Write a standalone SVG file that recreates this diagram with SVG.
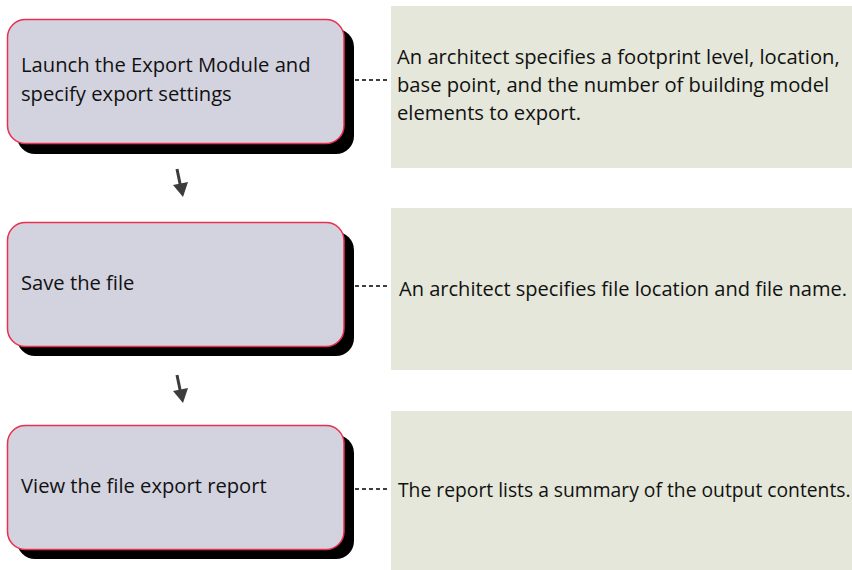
<svg xmlns="http://www.w3.org/2000/svg" width="852" height="570" viewBox="0 0 852 570">
<style>
.shadow{fill:#000}
.box{fill:#D3D3DF;stroke:#E8304F;stroke-width:1.5}
.panel{fill:#E4E7D9}
.t{font-family:"Open Sans","Noto Sans","Liberation Sans",sans-serif;font-size:20.2px;fill:#111}
.dash{stroke:#000;stroke-width:1.4;stroke-dasharray:4,3;fill:none}
.arrow{fill:#3c3c3c}
</style>
<rect width="852" height="570" fill="#fff"/>
<g id="connectors">
<line class="dash" x1="355" y1="80" x2="389" y2="80"/>
<line class="dash" x1="355" y1="286" x2="389" y2="286"/>
<line class="dash" x1="355" y1="489" x2="389" y2="489"/>
<g id="arrow1"><line x1="177" y1="169" x2="180.5" y2="186" stroke="#3c3c3c" stroke-width="3"/><polygon class="arrow" points="173,185 188,182 183,197"/></g>
<g id="arrow2"><line x1="177" y1="375" x2="180.5" y2="392" stroke="#3c3c3c" stroke-width="3"/><polygon class="arrow" points="173,391 188,388 183,403"/></g>
</g>
<g id="step1">
<rect class="shadow" x="17" y="29" width="337" height="125" rx="18"/>
<rect class="box" x="7.5" y="19.5" width="336.5" height="124" rx="18"/>
<text class="t" x="21" y="72">Launch the Export Module and</text>
<text class="t" x="21" y="101">specify export settings</text>
</g>
<g id="note1">
<rect class="panel" x="391" y="6" width="461" height="162"/>
<text class="t" x="397" y="64">An architect specifies a footprint level, location,</text>
<text class="t" x="397" y="92">base point, and the number of building model</text>
<text class="t" x="397" y="120">elements to export.</text>
</g>
<g id="step2">
<rect class="shadow" x="17" y="232" width="337" height="124" rx="18"/>
<rect class="box" x="7.5" y="222.5" width="336.5" height="124" rx="18"/>
<text class="t" x="21" y="290">Save the file</text>
</g>
<g id="note2">
<rect class="panel" x="391" y="208" width="461" height="162"/>
<text class="t" x="399" y="296" textLength="448" lengthAdjust="spacingAndGlyphs">An architect specifies file location and file name.</text>
</g>
<g id="step3">
<rect class="shadow" x="17" y="435" width="337" height="124" rx="18"/>
<rect class="box" x="7.5" y="425.5" width="336.5" height="124" rx="18"/>
<text class="t" x="21" y="493">View the file export report</text>
</g>
<g id="note3">
<rect class="panel" x="391" y="411" width="461" height="162"/>
<text class="t" x="398" y="497" style="font-size:19.3px">The report lists a summary of the output contents.</text>
</g>
</svg>
